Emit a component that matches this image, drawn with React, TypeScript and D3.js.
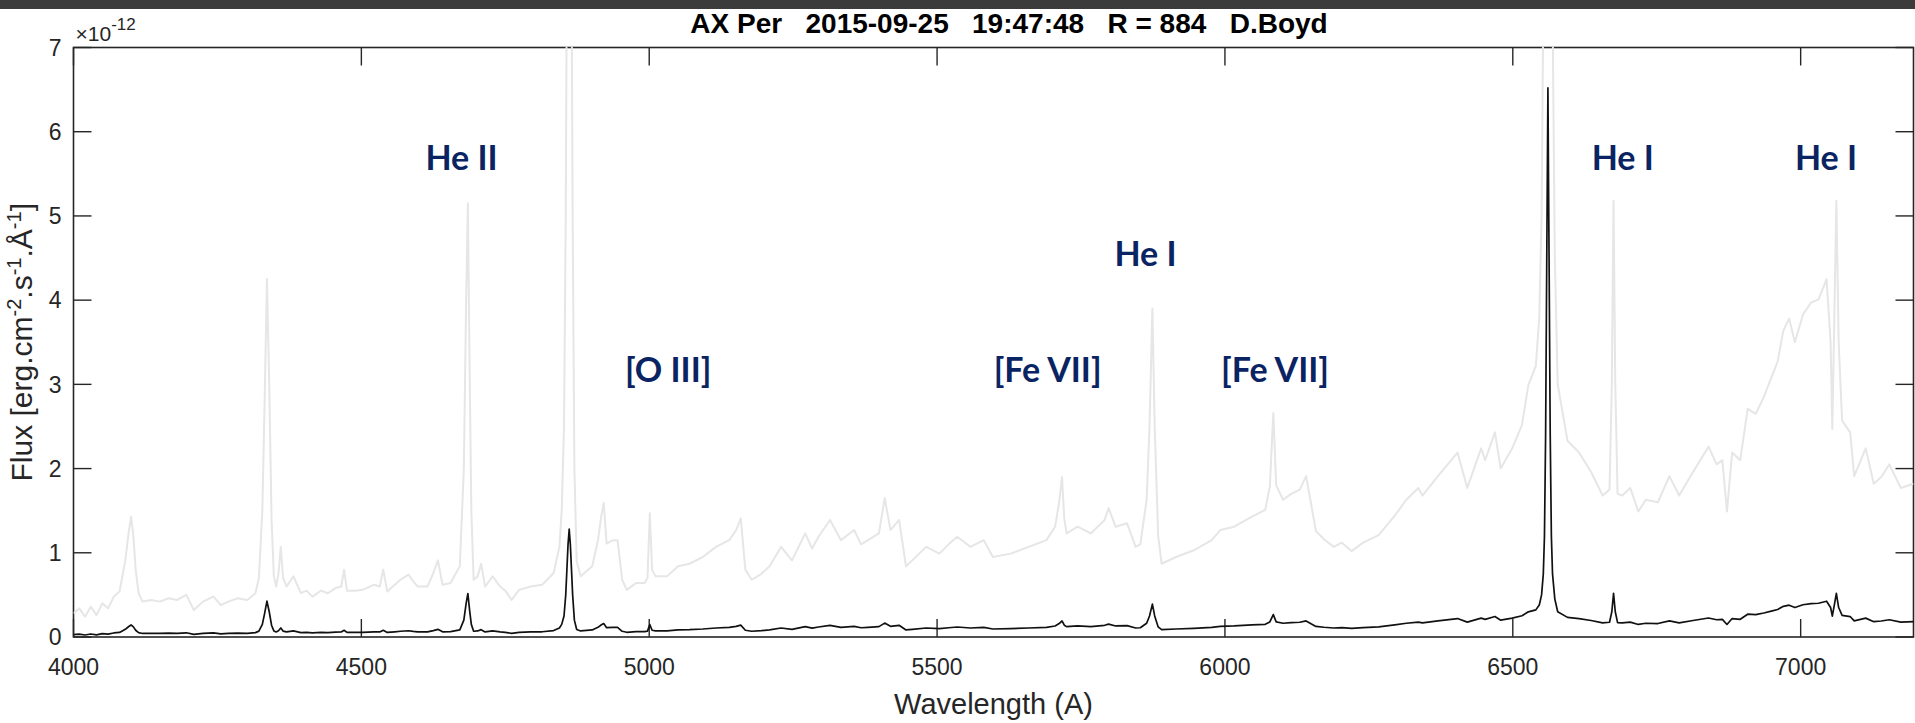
import React from 'react';
import * as d3 from 'd3';

// Spectrum of AX Per, flux in units of 1e-13 erg cm^-2 s^-1 Å^-1
const WAVELENGTH = [
  4000, 4010, 4020, 4030, 4040, 4050, 4060, 4070, 4080, 4090, 4096, 4100, 4104, 4108, 4113, 4120, 4135, 4150, 4165, 4180,
  4196, 4209, 4225, 4243, 4256, 4269, 4285, 4302, 4316, 4322, 4328, 4332, 4336, 4340, 4344, 4348, 4352, 4356, 4360, 4364,
  4370, 4382, 4395, 4405, 4415, 4430, 4442, 4455, 4465, 4470, 4475, 4490, 4502, 4522, 4532, 4538, 4545, 4558, 4568, 4582,
  4590, 4598, 4615, 4625, 4633, 4641, 4655, 4671, 4678, 4682, 4685, 4688, 4691, 4695, 4702, 4708, 4715, 4728, 4741, 4750,
  4761, 4774, 4794, 4814, 4834, 4844, 4848, 4852, 4855, 4857, 4859, 4861, 4863, 4865, 4867, 4870, 4874, 4881, 4901, 4911,
  4917, 4921, 4926, 4937, 4945, 4953, 4961, 4977, 4992, 4997, 5001, 5005, 5011, 5031, 5050, 5070, 5093, 5116, 5139, 5151,
  5159, 5167, 5178, 5195, 5209, 5229, 5248, 5271, 5283, 5294, 5314, 5333, 5356, 5368, 5380, 5399, 5409, 5419, 5434, 5446,
  5457, 5481, 5504, 5520, 5535, 5558, 5581, 5597, 5628, 5659, 5690, 5705, 5712, 5717, 5721, 5725, 5744, 5767, 5791, 5798,
  5810, 5830, 5845, 5853, 5864, 5869, 5874, 5878, 5884, 5890, 5915, 5946, 5977, 5992, 6016, 6047, 6070, 6078, 6084, 6089,
  6101, 6115, 6130, 6141, 6158, 6172, 6189, 6203, 6220, 6240, 6267, 6295, 6315, 6336, 6343, 6370, 6404, 6421, 6445, 6452,
  6469, 6479, 6499, 6516, 6527, 6540, 6546, 6550, 6553, 6555, 6557, 6559, 6561, 6563, 6565, 6567, 6569, 6573, 6578, 6595,
  6615, 6636, 6656, 6668, 6672, 6675, 6678, 6682, 6690, 6704, 6718, 6731, 6752, 6772, 6789, 6813, 6840, 6854, 6864, 6872,
  6881, 6895, 6908, 6922, 6936, 6949, 6960, 6970, 6980, 6990, 7004, 7018, 7031, 7045, 7052, 7055, 7059, 7062, 7066, 7072,
  7086, 7093, 7113, 7127, 7140, 7154, 7174, 7196,
];
const FLUX_E13 = [
  0.28, 0.34, 0.24, 0.36, 0.26, 0.40, 0.34, 0.48, 0.54, 0.91, 1.25, 1.43, 1.20, 0.80, 0.52, 0.42, 0.44, 0.42, 0.46, 0.44,
  0.50, 0.32, 0.42, 0.48, 0.38, 0.42, 0.46, 0.44, 0.52, 0.70, 1.5, 2.8, 4.25, 3.0, 1.4, 0.72, 0.60, 0.75, 1.07, 0.70,
  0.60, 0.72, 0.52, 0.55, 0.48, 0.55, 0.52, 0.58, 0.60, 0.80, 0.55, 0.55, 0.56, 0.62, 0.60, 0.80, 0.54, 0.62, 0.68, 0.74,
  0.66, 0.60, 0.60, 0.76, 0.91, 0.62, 0.64, 0.84, 2.0, 4.0, 5.15, 3.2, 1.5, 0.68, 0.72, 0.87, 0.60, 0.72, 0.60, 0.55,
  0.44, 0.56, 0.60, 0.62, 0.76, 1.07, 1.5, 2.5, 5.0, 8.0, 11.0, 12.8, 11.0, 8.0, 5.0, 2.0, 0.90, 0.72, 0.84, 1.15,
  1.45, 1.59, 1.11, 1.15, 1.15, 0.68, 0.56, 0.64, 0.64, 0.70, 1.47, 0.80, 0.72, 0.72, 0.84, 0.87, 0.95, 1.07, 1.15, 1.27,
  1.41, 0.80, 0.68, 0.75, 0.84, 1.07, 0.91, 1.23, 1.05, 1.19, 1.39, 1.15, 1.27, 1.10, 1.15, 1.23, 1.65, 1.27, 1.39, 0.84,
  0.91, 1.07, 0.99, 1.10, 1.19, 1.07, 1.15, 0.95, 0.99, 1.07, 1.15, 1.31, 1.6, 1.9, 1.4, 1.23, 1.31, 1.23, 1.39, 1.53,
  1.31, 1.35, 1.07, 1.10, 1.63, 2.5, 3.9, 2.5, 1.2, 0.87, 0.95, 1.03, 1.15, 1.27, 1.31, 1.43, 1.51, 1.79, 2.66, 1.8,
  1.63, 1.70, 1.75, 1.91, 1.26, 1.16, 1.07, 1.12, 1.02, 1.12, 1.21, 1.44, 1.63, 1.77, 1.68, 1.91, 2.19, 1.77, 2.24, 2.10,
  2.43, 2.00, 2.24, 2.52, 2.99, 3.22, 3.8, 5.0, 7.5, 12, 24, 45, 65.2, 45, 24, 12, 7.5, 4.5, 3.0, 2.33,
  2.19, 1.96, 1.68, 1.75, 3.0, 5.18, 3.0, 1.7, 1.68, 1.77, 1.49, 1.63, 1.60, 1.91, 1.68, 1.96, 2.26, 2.05, 2.10, 1.49,
  2.19, 2.10, 2.71, 2.65, 2.85, 3.08, 3.27, 3.64, 3.78, 3.50, 3.83, 3.97, 4.01, 4.25, 3.5, 2.47, 4.0, 5.18, 3.5, 2.57,
  2.43, 1.91, 2.24, 1.82, 1.90, 2.05, 1.77, 1.82,
];
// Black trace: true flux in units of 1e-12 (axis units). Light-grey trace: the same spectrum magnified ×10.
const E13_TO_E12 = 10;

const X_TICKS = [4000, 4500, 5000, 5500, 6000, 6500, 7000];
const Y_TICKS = [0, 1, 2, 3, 4, 5, 6, 7];
const X_DOMAIN = [4000, 7196];
const Y_DOMAIN = [0, 7];

const LINE_LABELS = ['He II', '[O III]', '[Fe VII]', 'He I', '[Fe VII]', 'He I', 'He I'];
const LABEL_WAVELENGTH = [4674, 5033, 5692, 5862, 6087, 6691, 7044];
const LABEL_FLUX = [5.55, 3.03, 3.03, 4.4, 3.03, 5.55, 5.55];

const TITLE = 'AX Per   2015-09-25   19:47:48   R = 884   D.Boyd';

export default function App() {
  const W = 1915;
  const H = 723;
  const left = 73.5, right = 1913.5, top = 47.5, bottom = 637;
  const x = d3.scaleLinear().domain(X_DOMAIN).range([left, right]);
  const y = d3.scaleLinear().domain(Y_DOMAIN).range([bottom, top]);
  const pts: [number, number][] = WAVELENGTH.map((w, i) => [w, FLUX_E13[i]]);
  const black = d3.line<[number, number]>().x(d => x(d[0])).y(d => y(d[1] / E13_TO_E12));
  const grey = d3.line<[number, number]>().x(d => x(d[0])).y(d => y(d[1]));
  const tickLen = 18;
  const axisColor = '#262626';
  const font = '"Liberation Sans", Arial, Helvetica, sans-serif';

  return (
    <svg width={W} height={H} style={{ position: 'absolute', left: 0, top: 0, background: '#fff' }}>
      <rect x={0} y={0} width={W} height={H} fill="#fff" />
      <rect x={0} y={0} width={W} height={9} fill="#3b3b3b" />
      <defs>
        <clipPath id="plotclip">
          <rect x={left} y={top - 1} width={right - left} height={bottom - top + 2} />
        </clipPath>
      </defs>
      {/* axes box */}
      <rect x={left} y={top} width={right - left} height={bottom - top} fill="none" stroke={axisColor} strokeWidth={1.6} />
      {X_TICKS.map(t => (
        <g key={'xt' + t}>
          <line x1={x(t)} x2={x(t)} y1={bottom} y2={bottom - tickLen} stroke={axisColor} strokeWidth={1.4} />
          <line x1={x(t)} x2={x(t)} y1={top} y2={top + tickLen} stroke={axisColor} strokeWidth={1.4} />
          <text x={x(t)} y={bottom + 38} textAnchor="middle" fontFamily={font} fontSize={23} fill={axisColor}>{t}</text>
        </g>
      ))}
      {Y_TICKS.map(t => (
        <g key={'yt' + t}>
          <line x1={left} x2={left + tickLen} y1={y(t)} y2={y(t)} stroke={axisColor} strokeWidth={1.4} />
          <line x1={right} x2={right - tickLen} y1={y(t)} y2={y(t)} stroke={axisColor} strokeWidth={1.4} />
          <text x={left - 12} y={y(t)} dy="0.36em" textAnchor="end" fontFamily={font} fontSize={23} fill={axisColor}>{t}</text>
        </g>
      ))}
      {/* exponent */}
      <text x={left + 2} y={41} fontFamily={font} fontSize={21} fill={axisColor}>
        ×10<tspan dy={-11} fontSize={17}>-12</tspan>
      </text>
      {/* data */}
      <g clipPath="url(#plotclip)">
        <path d={grey(pts) || ''} fill="none" stroke="#e6e6e6" strokeWidth={2} strokeLinejoin="round" />
        <path d={black(pts) || ''} fill="none" stroke="#111" strokeWidth={1.7} strokeLinejoin="round" />
      </g>
      {/* title */}
      <text x={1009} y={33} textAnchor="middle" fontFamily={font} fontWeight="bold" fontSize={28} fill="#000" style={{ whiteSpace: 'pre' }}>
        {TITLE}
      </text>
      {/* axis labels */}
      <text x={(left + right) / 2} y={714} textAnchor="middle" fontFamily={font} fontSize={29} fill={axisColor}>Wavelength (A)</text>
      <text transform={`translate(32, ${(top + bottom) / 2}) rotate(-90)`} textAnchor="middle" fontFamily={font} fontSize={30} fill={axisColor}>
        Flux [erg.cm<tspan dy={-11} fontSize={20}>-2</tspan><tspan dy={11}>.s</tspan><tspan dy={-11} fontSize={20}>-1</tspan><tspan dy={11}>.Å</tspan><tspan dy={-11} fontSize={20}>-1</tspan><tspan dy={11}>]</tspan>
      </text>
      {/* line identifications */}
      {LINE_LABELS.map((l, i) => (
        <text key={'lab' + i} x={x(LABEL_WAVELENGTH[i])} y={y(LABEL_FLUX[i])} textAnchor="middle" fontFamily="Lato, 'Open Sans', sans-serif" fontWeight="bold" fontSize={34} fill="#0a2463">{l}</text>
      ))}
    </svg>
  );
}
